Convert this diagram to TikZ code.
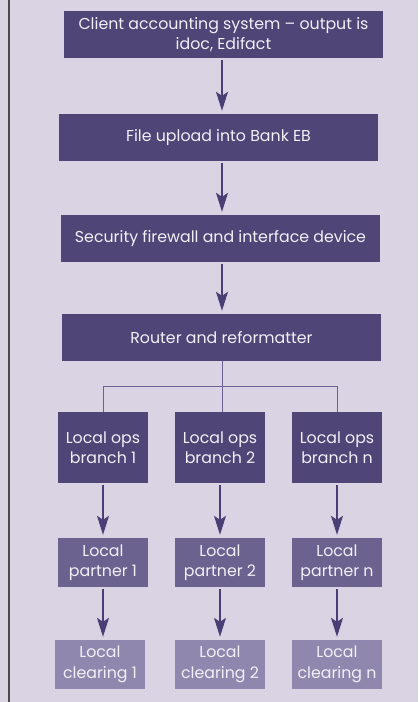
\documentclass[tikz,border=0pt]{standalone}
\usepackage{fontspec}
\setmainfont{Poppins}
\usetikzlibrary{arrows.meta}
\definecolor{bgc}{HTML}{D9D3E3}
\definecolor{darkbox}{HTML}{4F4577}
\definecolor{midbox}{HTML}{6C6290}
\definecolor{lightbox}{HTML}{8F87AD}
\definecolor{arrc}{HTML}{4A3F75}
\definecolor{treec}{HTML}{6B6192}
\definecolor{edgec}{HTML}{4B4B4B}
\definecolor{txtc}{HTML}{F2F0F6}
\begin{document}
\begin{tikzpicture}[x=1pt,y=-1pt,
  box/.style={inner sep=0pt, text=txtc, align=center,
    font=\fontsize{15.8}{20.5}\selectfont},
  wide/.style={box, fill=darkbox, minimum width=319pt, minimum height=47pt},
  branchbox/.style={box, fill=darkbox, minimum width=90pt, minimum height=71pt},
  partnerbox/.style={box, fill=midbox, minimum width=90pt, minimum height=49pt},
  clearbox/.style={box, fill=lightbox, minimum width=90pt, minimum height=49pt},
  arr/.style={draw=arrc, line width=1.4pt, shorten >=3pt, shorten <=1.5pt,
    -{Stealth[length=19pt,width=12pt,inset=4pt]}},
  tree/.style={draw=treec, line width=1pt}]
\fill[bgc] (0,0) rectangle (418,702);
\useasboundingbox (0,0) rectangle (418,702);
\draw[edgec, line width=2pt] (9,0) -- (9,702);

\node[wide] (b1) at (223.5,34.5) {Client accounting system -- output is\\idoc, Edifact};
\node[wide] (b2) at (218.5,137.5) {File upload into Bank EB};
\node[wide] (b3) at (220.5,238.5) {Security firewall and interface device};
\node[wide] (b4) at (221.5,337.5) {Router and reformatter};

\coordinate (spine) at (222,0);
\draw[arr] (b1.south -| spine) -- (b2.north -| spine);
\draw[arr] (b2.south -| spine) -- (b3.north -| spine);
\draw[arr] (b3.south -| spine) -- (b4.north -| spine);

\node[branchbox] (o1) at (103,447.5) {Local ops\\branch 1};
\node[branchbox] (o2) at (220,447.5) {Local ops\\branch 2};
\node[branchbox] (on) at (337,447.5) {Local ops\\branch n};

\node[partnerbox] (p1) at (103,562.5) {Local\\partner 1};
\node[partnerbox] (p2) at (220,562.5) {Local\\partner 2};
\node[partnerbox] (pn) at (337,562.5) {Local\\partner n};

\node[clearbox] (c1) at (100,664.5) {Local\\clearing 1};
\node[clearbox] (c2) at (220,664.5) {Local\\clearing 2};
\node[clearbox] (cn) at (337,664.5) {Local\\clearing n};

\coordinate (bus) at (0,386);
\draw[tree] (b4.south -| spine) -- (bus -| spine);
\draw[tree] (bus -| o1) -- (bus -| on);
\draw[tree] (bus -| o1) -- (o1.north);
\draw[tree] (bus -| on) -- (on.north);
\draw[tree] (bus -| spine) -- (o2.north -| spine);

\draw[arr] (o1.south) -- (p1.north);
\draw[arr] (o2.south) -- (p2.north);
\draw[arr] (on.south) -- (pn.north);
\draw[arr] (p1.south) -- (c1.north -| p1);
\draw[arr] (p2.south) -- (c2.north);
\draw[arr] (pn.south) -- (cn.north);
\end{tikzpicture}
\end{document}
